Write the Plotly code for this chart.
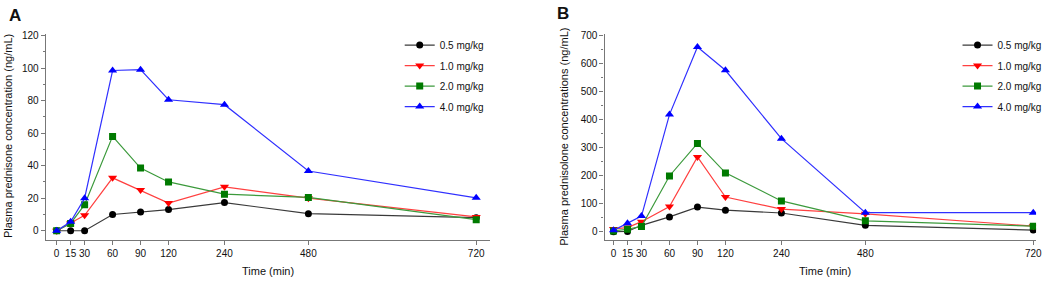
import numpy as np
import plotly.graph_objects as go

time_min = [0, 15, 30, 60, 90, 120, 240, 480, 720]
doses = ["0.5 mg/kg", "1.0 mg/kg", "2.0 mg/kg", "4.0 mg/kg"]

# Panel A: plasma prednisone (ng/mL)
pred_a_05 = [0, 0, 0, 10, 11.5, 13, 17.3, 10.5, 8]
pred_a_10 = [0, 4.5, 9.5, 32.5, 25, 17, 27, 20, 8.5]
pred_a_20 = [0, 4.5, 16, 58, 38.5, 30, 22.5, 20.5, 6.8]
pred_a_40 = [0, 5.5, 20, 98.5, 99, 80.5, 77.5, 36.7, 20.2]

# Panel B: plasma prednisolone (ng/mL)
pred_b_05 = [0, 1, 23, 53, 88, 77, 67, 23, 6]
pred_b_10 = [10, 15, 36, 90, 267, 124, 81, 64, 20]
pred_b_20 = [3, 9, 19, 199, 315, 210, 110, 39, 20]
pred_b_40 = [5, 30, 56, 418, 659, 576, 332, 68, 68]

x_ticks = [0, 15, 30, 60, 90, 120, 240, 480, 720]

# The original time axis is piecewise (scale breaks): segment break times and
# their relative axis lengths.
axis_break_times = [0, 120, 240, 480, 720]
axis_break_units = [0, 120, 180, 270, 450]

def time_scale(t):
    return list(np.interp(t, axis_break_times, axis_break_units))

marker_syms = ["circle", "triangle-down", "square", "triangle-up"]
marker_cols = ["#000000", "#ff0000", "#007a00", "#0000ff"]
line_cols = ["#3a3a3a", "#ff4040", "#3c9a3c", "#3030ff"]
marker_sizes = [7, 8, 7, 8]

FONT = "Liberation Sans, Arial, sans-serif"
W, H = 1055, 281

fig = go.Figure()

series_a = [pred_a_05, pred_a_10, pred_a_20, pred_a_40]
series_b = [pred_b_05, pred_b_10, pred_b_20, pred_b_40]

for i, (name, ys) in enumerate(zip(doses, series_a)):
    fig.add_trace(go.Scatter(
        x=time_scale(time_min), y=ys, name=name, mode="lines+markers",
        customdata=time_min, hovertemplate="%{customdata} min: %{y}<extra>" + name + "</extra>",
        xaxis="x", yaxis="y", legend="legend", legendgroup="a" + str(i),
        line=dict(color=line_cols[i], width=1.2),
        marker=dict(symbol=marker_syms[i], color=marker_cols[i], size=marker_sizes[i]),
    ))
for i, (name, ys) in enumerate(zip(doses, series_b)):
    fig.add_trace(go.Scatter(
        x=time_scale(time_min), y=ys, name=name, mode="lines+markers",
        customdata=time_min, hovertemplate="%{customdata} min: %{y}<extra>" + name + "</extra>",
        xaxis="x2", yaxis="y2", legend="legend2", legendgroup="b" + str(i),
        line=dict(color=line_cols[i], width=1.2),
        marker=dict(symbol=marker_syms[i], color=marker_cols[i], size=marker_sizes[i]),
    ))

def px_x(p):
    return p / W

def px_y(p):
    return 1 - p / H

axis_common = dict(
    showgrid=False, zeroline=False, showline=True, linecolor="#777777", linewidth=1.2,
    ticks="outside", tickcolor="#777777", ticklen=4, tickwidth=1,
    tickfont=dict(family=FONT, size=10, color="#111111"),
)

tick_pos = time_scale(x_ticks)
tick_txt = [str(t) for t in x_ticks]

legend_common = dict(xanchor="left", yanchor="top",
                     font=dict(family=FONT, size=10, color="#111111"),
                     itemwidth=30, bgcolor="rgba(0,0,0,0)", tracegroupgap=1.5)

fig.update_layout(
    width=W, height=H,
    margin=dict(l=0, r=0, t=0, b=0),
    paper_bgcolor="white", plot_bgcolor="white",
    font=dict(family=FONT, color="#111111"),
    xaxis=dict(domain=[px_x(46), px_x(493)], range=[-11.7, 465],
               tickmode="array", tickvals=tick_pos, ticktext=tick_txt, tickangle=0,
               anchor="y", **axis_common),
    yaxis=dict(domain=[px_y(239), px_y(30)], range=[-5.45, 121.2],
               tickmode="array", tickvals=[0, 20, 40, 60, 80, 100, 120], anchor="x",
               minor=dict(ticks="outside", ticklen=2, tickcolor="#777777", dtick=10, tick0=0),
               **axis_common),
    xaxis2=dict(domain=[px_x(608), px_x(1042)], range=[-9.6, 453],
                tickmode="array", tickvals=tick_pos, ticktext=tick_txt, tickangle=0,
                anchor="y2", **axis_common),
    yaxis2=dict(domain=[px_y(239), px_y(30)], range=[-28, 707],
                tickmode="array", tickvals=[0, 100, 200, 300, 400, 500, 600, 700], anchor="x2",
                minor=dict(ticks="outside", ticklen=2, tickcolor="#777777", dtick=50, tick0=0),
                **axis_common),
    legend=dict(x=px_x(402), y=px_y(27), **legend_common),
    legend2=dict(x=px_x(963), y=px_y(27), **legend_common),
    showlegend=True,
)

annos = [
    dict(text="<b>A</b>", x=px_x(15), y=px_y(12), font=dict(size=17)),
    dict(text="<b>B</b>", x=px_x(566), y=px_y(10), font=dict(size=17)),
    dict(text="Time (min)", x=px_x(270), y=px_y(271), font=dict(size=11)),
    dict(text="Time (min)", x=px_x(830), y=px_y(271), font=dict(size=11)),
    dict(text="Plasma prednisone concentration (ng/mL)", x=px_x(8), y=px_y(134),
         textangle=-90, font=dict(size=11)),
    dict(text="Plasma prednisolone concentrations (ng/mL)", x=px_x(567), y=px_y(135),
         textangle=-90, font=dict(size=11)),
]
for a in annos:
    f = dict(family=FONT, color="#111111")
    f.update(a.pop("font"))
    fig.add_annotation(xref="paper", yref="paper", showarrow=False,
                       xanchor="center", yanchor="middle", font=f, **a)

fig.write_html("out.html", config={"displayModeBar": False},
               post_script="document.body.style.margin='0';document.body.style.overflow='hidden';")
